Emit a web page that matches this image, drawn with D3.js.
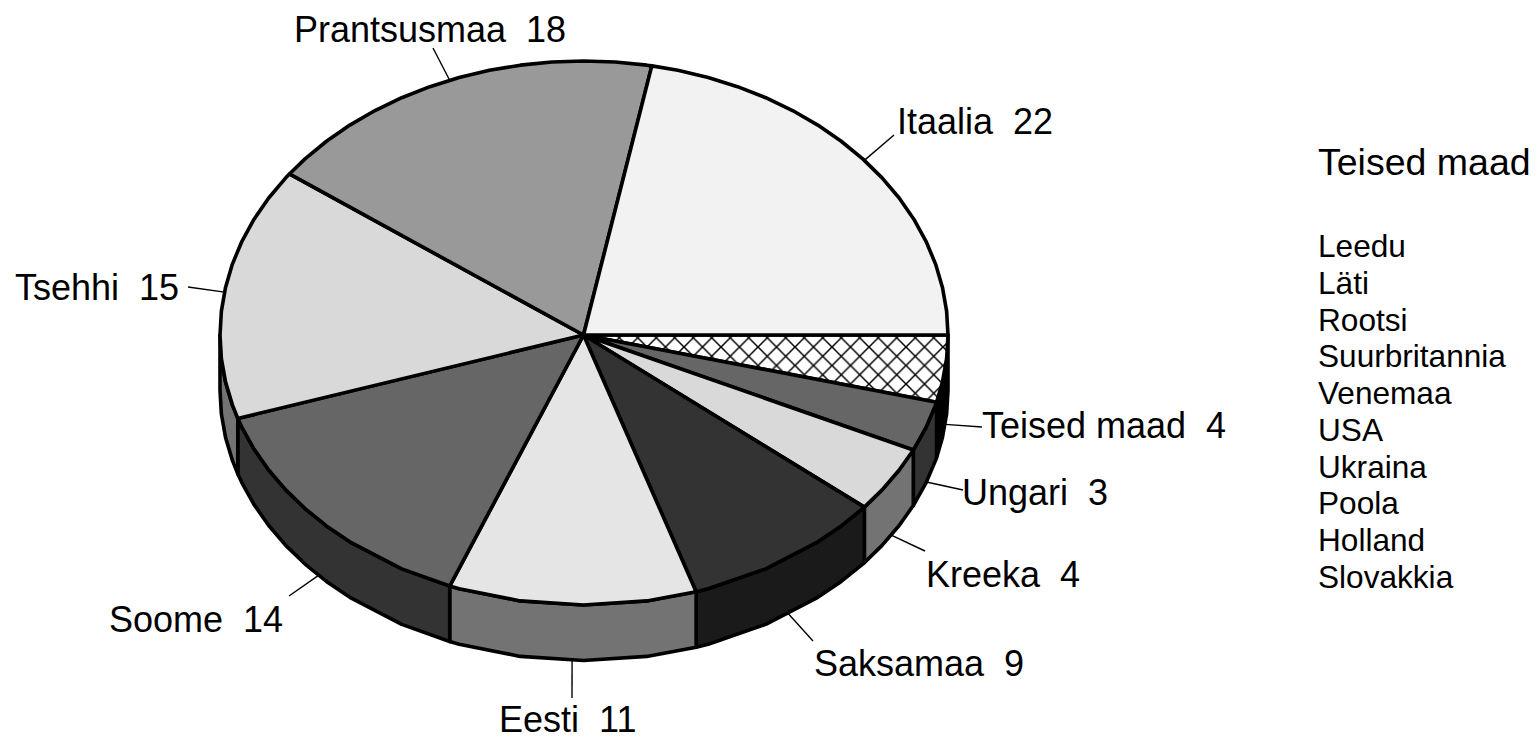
<!DOCTYPE html>
<html><head><meta charset="utf-8">
<script src="https://cdnjs.cloudflare.com/ajax/libs/d3/7.8.5/d3.min.js"></script>
<style>html,body{margin:0;padding:0;background:#fff}svg{display:block}text{font-family:"Liberation Sans",Arial,sans-serif;fill:#000}</style>
</head><body><svg id="c" width="1538" height="736"></svg>
<script>
const categories=["Teised maad","Ungari","Kreeka","Saksamaa","Eesti","Soome","Tsehhi","Prantsusmaa","Itaalia"];
const values=[4,3,4,9,11,14,15,18,22];
const topFills=["url(#hatch)","#666666","#d9d9d9","#333333","#e5e5e5","#666666","#d9d9d9","#999999","#f2f2f2"];
const sideFills=["#000000","#333333","#737373","#1a1a1a","#737373","#333333","#737373","#4d4d4d","#797979"];
const labelAnchors=[[982,438],[962,505],[926,587],[814,676],[499,732],[109,632],[15,300],[294,42],[897,134]];
const leaderEnds=[[982,427],[963,490],[925,551],[813,641],[572,698],[289,596],[188,287],[433,48],[894,135]];
const legendTitle="Teised maad";
const legendItems=["Leedu","Läti","Rootsi","Suurbritannia","Venemaa","USA","Ukraina","Poola","Holland","Slovakkia"];

const cx=583.5,cy=335,depth=55.5;
const svg=d3.select("#c");
const defs=svg.append("defs");
const hp=18.5;
const p=defs.append("pattern").attr("id","hatch").attr("patternUnits","userSpaceOnUse").attr("width",hp).attr("height",hp).attr("x",795).attr("y",347);
p.append("rect").attr("width",hp).attr("height",hp).attr("fill","#fff");
p.append("path").attr("d",`M0 0L${hp} ${hp}M${hp} 0L0 ${hp}`).attr("stroke","#000").attr("stroke-width",1.5).attr("fill","none");

const slices=d3.pie().sort(null).value(d=>d).startAngle(0).endAngle(2*Math.PI)(values)
  .map(s=>({startAngle:s.startAngle*180/Math.PI,endAngle:s.endAngle*180/Math.PI}));
const px=d3.scaleLinear().domain([-1,0,1]).range([220,cx,948]);
const py=d3.scaleLinear().domain([-1,0,1]).range([61,cy,605]);
const pt=(a,dz=0)=>[px(Math.cos(a*Math.PI/180)),py(Math.sin(a*Math.PI/180))+dz];
const line=d3.line();
function arcAngles(a0,a1){
  const out=[a0];
  let a=Math.floor(a0/5+1e-6)*5+5;
  for(;a<a1-1e-6;a+=5){
    if(a>50&&a<130&&a%10!==0)continue;
    out.push(a);
  }
  out.push(a1);return out;
}
function styled(sel){return sel.attr("stroke","#000").attr("stroke-width",3.6).attr("stroke-linejoin","round");}

const gSide=svg.append("g");
slices.forEach((s,i)=>{
  const a0=s.startAngle,a1=Math.min(s.endAngle,180);
  if(a0>=180)return;
  const as=arcAngles(a0,a1);
  const pts=as.map(a=>pt(a)).concat(as.slice().reverse().map(a=>pt(a,depth)));
  styled(gSide.append("path").attr("d",line(pts)+"Z").attr("fill",sideFills[i]));
});
const gTop=svg.append("g");
slices.forEach((s,i)=>{
  const pts=[[cx,cy]].concat(arcAngles(s.startAngle,s.endAngle).map(a=>pt(a)));
  styled(gTop.append("path").attr("d",line(pts)+"Z").attr("fill",topFills[i]));
});
const gLab=svg.append("g");
slices.forEach((s,i)=>{
  const m=(s.startAngle+s.endAngle)/2;
  const st=pt(m,(m<180)?depth:0);
  gLab.append("line").attr("x1",st[0]).attr("y1",st[1]).attr("x2",leaderEnds[i][0]).attr("y2",leaderEnds[i][1]).attr("stroke","#000").attr("stroke-width",1.4);
  gLab.append("text").attr("x",labelAnchors[i][0]).attr("y",labelAnchors[i][1]).attr("font-size",36).style("white-space","pre").text(categories[i]+"  "+values[i]);
});
svg.append("text").attr("x",1318).attr("y",175).attr("font-size",37.5).text(legendTitle);
const ly=d3.scalePoint().domain(legendItems).range([257,588]);
svg.append("g").selectAll("text").data(legendItems).join("text").attr("x",1318).attr("y",d=>ly(d)).attr("font-size",31.6).text(d=>d);
</script></body></html>
